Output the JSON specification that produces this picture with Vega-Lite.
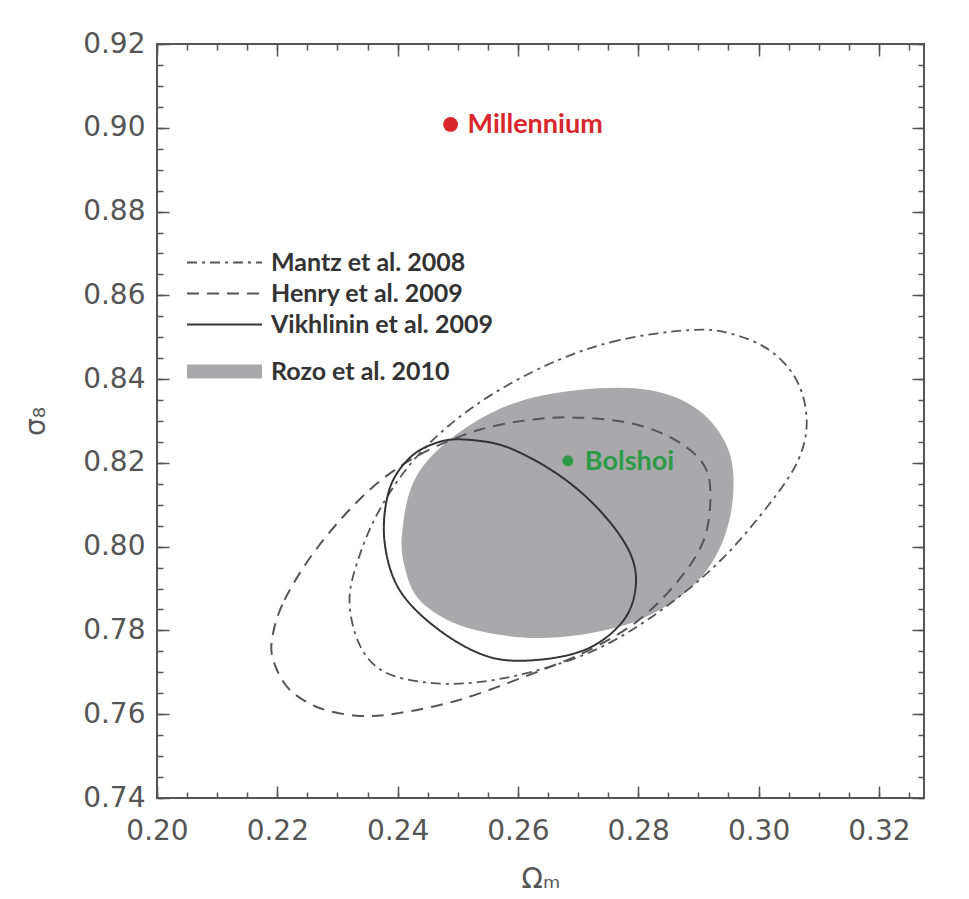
{
  "$schema": "https://vega.github.io/schema/vega-lite/v6.json",
  "width": 767,
  "height": 754,
  "autosize": {"type": "none"},
  "padding": {"left": 157, "top": 44, "right": 45, "bottom": 101},
  "background": "white",
  "config": {
    "view": {"stroke": "#555555", "strokeWidth": 2},
    "axis": {
      "domain": false, "grid": false, "labelFlush": false,
      "labelFont": "DejaVu Sans", "labelFontSize": 28, "labelColor": "#555555",
      "tickColor": "#555555", "tickWidth": 1.5,
      "titleFont": "DejaVu Sans", "titleFontSize": 28, "titleColor": "#555555", "titleFontWeight": "normal"
    }
  },
  "datasets": {
    "contours": [
      {"study": "Mantz et al. 2008", "ord": 1, "x": 0.2884, "y": 0.8517},
      {"study": "Mantz et al. 2008", "ord": 2, "x": 0.2768, "y": 0.8493},
      {"study": "Mantz et al. 2008", "ord": 3, "x": 0.2668, "y": 0.8446},
      {"study": "Mantz et al. 2008", "ord": 4, "x": 0.2569, "y": 0.8374},
      {"study": "Mantz et al. 2008", "ord": 5, "x": 0.2486, "y": 0.8290},
      {"study": "Mantz et al. 2008", "ord": 6, "x": 0.2420, "y": 0.8195},
      {"study": "Mantz et al. 2008", "ord": 7, "x": 0.2370, "y": 0.8088},
      {"study": "Mantz et al. 2008", "ord": 8, "x": 0.2337, "y": 0.7980},
      {"study": "Mantz et al. 2008", "ord": 9, "x": 0.2320, "y": 0.7873},
      {"study": "Mantz et al. 2008", "ord": 10, "x": 0.2337, "y": 0.7765},
      {"study": "Mantz et al. 2008", "ord": 11, "x": 0.2378, "y": 0.7701},
      {"study": "Mantz et al. 2008", "ord": 12, "x": 0.2453, "y": 0.7675},
      {"study": "Mantz et al. 2008", "ord": 13, "x": 0.2536, "y": 0.7677},
      {"study": "Mantz et al. 2008", "ord": 14, "x": 0.2635, "y": 0.7706},
      {"study": "Mantz et al. 2008", "ord": 15, "x": 0.2735, "y": 0.7758},
      {"study": "Mantz et al. 2008", "ord": 16, "x": 0.2834, "y": 0.7844},
      {"study": "Mantz et al. 2008", "ord": 17, "x": 0.2934, "y": 0.7963},
      {"study": "Mantz et al. 2008", "ord": 18, "x": 0.3017, "y": 0.8100},
      {"study": "Mantz et al. 2008", "ord": 19, "x": 0.3066, "y": 0.8207},
      {"study": "Mantz et al. 2008", "ord": 20, "x": 0.3080, "y": 0.8302},
      {"study": "Mantz et al. 2008", "ord": 21, "x": 0.3063, "y": 0.8398},
      {"study": "Mantz et al. 2008", "ord": 22, "x": 0.3017, "y": 0.8470},
      {"study": "Mantz et al. 2008", "ord": 23, "x": 0.2950, "y": 0.8510},
      {"study": "Henry et al. 2009", "ord": 1, "x": 0.2191, "y": 0.7777},
      {"study": "Henry et al. 2009", "ord": 2, "x": 0.2212, "y": 0.7873},
      {"study": "Henry et al. 2009", "ord": 3, "x": 0.2270, "y": 0.8004},
      {"study": "Henry et al. 2009", "ord": 4, "x": 0.2353, "y": 0.8135},
      {"study": "Henry et al. 2009", "ord": 5, "x": 0.2436, "y": 0.8219},
      {"study": "Henry et al. 2009", "ord": 6, "x": 0.2536, "y": 0.8279},
      {"study": "Henry et al. 2009", "ord": 7, "x": 0.2635, "y": 0.8305},
      {"study": "Henry et al. 2009", "ord": 8, "x": 0.2718, "y": 0.8307},
      {"study": "Henry et al. 2009", "ord": 9, "x": 0.2801, "y": 0.8290},
      {"study": "Henry et al. 2009", "ord": 10, "x": 0.2867, "y": 0.8250},
      {"study": "Henry et al. 2009", "ord": 11, "x": 0.2909, "y": 0.8195},
      {"study": "Henry et al. 2009", "ord": 12, "x": 0.2920, "y": 0.8123},
      {"study": "Henry et al. 2009", "ord": 13, "x": 0.2909, "y": 0.8016},
      {"study": "Henry et al. 2009", "ord": 14, "x": 0.2867, "y": 0.7920},
      {"study": "Henry et al. 2009", "ord": 15, "x": 0.2801, "y": 0.7825},
      {"study": "Henry et al. 2009", "ord": 16, "x": 0.2718, "y": 0.7753},
      {"study": "Henry et al. 2009", "ord": 17, "x": 0.2619, "y": 0.7694},
      {"study": "Henry et al. 2009", "ord": 18, "x": 0.2502, "y": 0.7634},
      {"study": "Henry et al. 2009", "ord": 19, "x": 0.2403, "y": 0.7603},
      {"study": "Henry et al. 2009", "ord": 20, "x": 0.2337, "y": 0.7596},
      {"study": "Henry et al. 2009", "ord": 21, "x": 0.2270, "y": 0.7615},
      {"study": "Henry et al. 2009", "ord": 22, "x": 0.2221, "y": 0.7658},
      {"study": "Henry et al. 2009", "ord": 23, "x": 0.2196, "y": 0.7718},
      {"study": "Vikhlinin et al. 2009", "ord": 1, "x": 0.2378, "y": 0.8016},
      {"study": "Vikhlinin et al. 2009", "ord": 2, "x": 0.2386, "y": 0.8135},
      {"study": "Vikhlinin et al. 2009", "ord": 3, "x": 0.2420, "y": 0.8212},
      {"study": "Vikhlinin et al. 2009", "ord": 4, "x": 0.2469, "y": 0.8250},
      {"study": "Vikhlinin et al. 2009", "ord": 5, "x": 0.2519, "y": 0.8255},
      {"study": "Vikhlinin et al. 2009", "ord": 6, "x": 0.2585, "y": 0.8236},
      {"study": "Vikhlinin et al. 2009", "ord": 7, "x": 0.2668, "y": 0.8171},
      {"study": "Vikhlinin et al. 2009", "ord": 8, "x": 0.2735, "y": 0.8088},
      {"study": "Vikhlinin et al. 2009", "ord": 9, "x": 0.2784, "y": 0.7992},
      {"study": "Vikhlinin et al. 2009", "ord": 10, "x": 0.2796, "y": 0.7909},
      {"study": "Vikhlinin et al. 2009", "ord": 11, "x": 0.2776, "y": 0.7825},
      {"study": "Vikhlinin et al. 2009", "ord": 12, "x": 0.2718, "y": 0.7758},
      {"study": "Vikhlinin et al. 2009", "ord": 13, "x": 0.2635, "y": 0.7730},
      {"study": "Vikhlinin et al. 2009", "ord": 14, "x": 0.2552, "y": 0.7737},
      {"study": "Vikhlinin et al. 2009", "ord": 15, "x": 0.2469, "y": 0.7801},
      {"study": "Vikhlinin et al. 2009", "ord": 16, "x": 0.2403, "y": 0.7897},
      {"study": "Rozo et al. 2010", "ord": 1, "x": 0.2408, "y": 0.8040},
      {"study": "Rozo et al. 2010", "ord": 2, "x": 0.2428, "y": 0.8159},
      {"study": "Rozo et al. 2010", "ord": 3, "x": 0.2486, "y": 0.8255},
      {"study": "Rozo et al. 2010", "ord": 4, "x": 0.2585, "y": 0.8338},
      {"study": "Rozo et al. 2010", "ord": 5, "x": 0.2701, "y": 0.8374},
      {"study": "Rozo et al. 2010", "ord": 6, "x": 0.2818, "y": 0.8374},
      {"study": "Rozo et al. 2010", "ord": 7, "x": 0.2900, "y": 0.8326},
      {"study": "Rozo et al. 2010", "ord": 8, "x": 0.2950, "y": 0.8231},
      {"study": "Rozo et al. 2010", "ord": 9, "x": 0.2957, "y": 0.8111},
      {"study": "Rozo et al. 2010", "ord": 10, "x": 0.2934, "y": 0.7992},
      {"study": "Rozo et al. 2010", "ord": 11, "x": 0.2884, "y": 0.7897},
      {"study": "Rozo et al. 2010", "ord": 12, "x": 0.2801, "y": 0.7825},
      {"study": "Rozo et al. 2010", "ord": 13, "x": 0.2701, "y": 0.7789},
      {"study": "Rozo et al. 2010", "ord": 14, "x": 0.2602, "y": 0.7784},
      {"study": "Rozo et al. 2010", "ord": 15, "x": 0.2502, "y": 0.7813},
      {"study": "Rozo et al. 2010", "ord": 16, "x": 0.2436, "y": 0.7873},
      {"study": "Rozo et al. 2010", "ord": 17, "x": 0.2411, "y": 0.7956}
    ],
    "sims": [
      {"name": "Millennium", "x": 0.2488, "y": 0.9008, "big": 1},
      {"name": "Bolshoi", "x": 0.2683, "y": 0.8205, "big": 0}
    ]
  },
  "layer": [
    {
      "data": {"name": "contours"},
      "transform": [{"filter": "datum.study === 'Rozo et al. 2010'"}],
      "mark": {"type": "line", "interpolate": "cardinal-closed", "fill": "#a9a9ac", "stroke": null, "strokeWidth": 0},
      "encoding": {
        "x": {"field": "x", "type": "quantitative", "scale": {"domain": [0.2, 0.3275], "nice": false, "zero": false},
              "axis": {"orient": "bottom", "offset": -12, "tickSize": 12, "values": [0.2, 0.22, 0.24, 0.26, 0.28, 0.3, 0.32], "format": ".2f", "labelPadding": 19, "title": "Ωₘ", "titlePadding": 20}},
        "y": {"field": "y", "type": "quantitative", "scale": {"domain": [0.74, 0.92], "nice": false, "zero": false},
              "axis": {"orient": "left", "offset": -12, "tickSize": 12, "values": [0.74, 0.76, 0.78, 0.8, 0.82, 0.84, 0.86, 0.88, 0.9, 0.92], "format": ".2f", "labelPadding": 12, "title": "σ₈", "titlePadding": 32}},
        "order": {"field": "ord", "type": "quantitative"}
      }
    },
    {
      "data": {"name": "contours"},
      "transform": [{"filter": "datum.study !== 'Rozo et al. 2010'"}],
      "mark": {"type": "line", "interpolate": "cardinal-closed", "strokeJoin": "bevel", "strokeMiterLimit": 1},
      "encoding": {
        "x": {"field": "x", "type": "quantitative", "axis": {"orient": "top", "offset": -12, "tickSize": 12, "values": [0.2, 0.22, 0.24, 0.26, 0.28, 0.3, 0.32], "labels": false, "title": null}},
        "y": {"field": "y", "type": "quantitative", "axis": {"orient": "right", "offset": -12, "tickSize": 12, "values": [0.74, 0.76, 0.78, 0.8, 0.82, 0.84, 0.86, 0.88, 0.9, 0.92], "labels": false, "title": null}},
        "order": {"field": "ord", "type": "quantitative"},
        "stroke": {"field": "study", "type": "nominal",
                   "scale": {"domain": ["Mantz et al. 2008", "Henry et al. 2009", "Vikhlinin et al. 2009", "Rozo et al. 2010"], "range": ["#555555", "#555555", "#333333", "#a9a9ac"]},
                   "legend": {"title": null, "orient": "none", "legendX": 55, "legendY": 206, "padding": 0,
                              "symbolType": "M-75,0H75", "symbolSize": 1, "labelFont": "Lato", "labelFontSize": 25, "labelFontWeight": "bold", "labelColor": "#333333",
                              "labelOffset": 34, "labelLimit": 400, "rowPadding": 5}},
        "strokeDash": {"field": "study", "type": "nominal",
                       "scale": {"domain": ["Mantz et al. 2008", "Henry et al. 2009", "Vikhlinin et al. 2009", "Rozo et al. 2010"], "range": [[10, 5, 3, 5], [12, 8], [1, 0], [1, 0]]},
                       "legend": {"title": null, "orient": "none", "legendX": 55, "legendY": 206, "padding": 0,
                              "symbolType": "M-75,0H75", "symbolSize": 1, "labelFont": "Lato", "labelFontSize": 25, "labelFontWeight": "bold", "labelColor": "#333333",
                              "labelOffset": 34, "labelLimit": 400, "rowPadding": 5}},
        "strokeWidth": {"field": "study", "type": "nominal",
                        "scale": {"type": "ordinal", "domain": ["Mantz et al. 2008", "Henry et al. 2009", "Vikhlinin et al. 2009", "Rozo et al. 2010"], "range": [1.8, 2, 2, 14]},
                        "legend": {"title": null, "orient": "none", "legendX": 55, "legendY": 206, "padding": 0,
                              "symbolType": "M-75,0H75", "symbolSize": 1, "labelFont": "Lato", "labelFontSize": 25, "labelFontWeight": "bold", "labelColor": "#333333",
                              "labelOffset": 34, "labelLimit": 400, "rowPadding": 5}}
      }
    },
    {
      "data": {"name": "sims"},
      "mark": {"type": "circle", "opacity": 1},
      "encoding": {
        "x": {"field": "x", "type": "quantitative", "axis": {"orient": "bottom", "offset": -6, "tickSize": 6, "values": [0.2, 0.205, 0.21, 0.215, 0.22, 0.225, 0.23, 0.235, 0.24, 0.245, 0.25, 0.255, 0.26, 0.265, 0.27, 0.275, 0.28, 0.285, 0.29, 0.295, 0.3, 0.305, 0.31, 0.315, 0.32, 0.325], "labels": false, "title": null}},
        "y": {"field": "y", "type": "quantitative", "axis": {"orient": "left", "offset": -6, "tickSize": 6, "values": [0.74, 0.745, 0.75, 0.755, 0.76, 0.765, 0.77, 0.775, 0.78, 0.785, 0.79, 0.795, 0.8, 0.805, 0.81, 0.815, 0.82, 0.825, 0.83, 0.835, 0.84, 0.845, 0.85, 0.855, 0.86, 0.865, 0.87, 0.875, 0.88, 0.885, 0.89, 0.895, 0.9, 0.905, 0.91, 0.915, 0.92], "labels": false, "title": null}},
        "size": {"field": "big", "type": "quantitative", "scale": {"domain": [0, 1], "range": [120, 220]}, "legend": null},
        "color": {"field": "name", "type": "nominal", "scale": {"domain": ["Millennium", "Bolshoi"], "range": ["#d8262c", "#2e9a47"]}, "legend": null}
      }
    },
    {
      "data": {"name": "sims"},
      "mark": {"type": "text", "align": "left", "baseline": "middle", "dx": 17, "dy": 1, "font": "Lato", "fontSize": 27, "fontWeight": "bold"},
      "encoding": {
        "x": {"field": "x", "type": "quantitative", "axis": {"orient": "top", "offset": -6, "tickSize": 6, "values": [0.2, 0.205, 0.21, 0.215, 0.22, 0.225, 0.23, 0.235, 0.24, 0.245, 0.25, 0.255, 0.26, 0.265, 0.27, 0.275, 0.28, 0.285, 0.29, 0.295, 0.3, 0.305, 0.31, 0.315, 0.32, 0.325], "labels": false, "title": null}},
        "y": {"field": "y", "type": "quantitative", "axis": {"orient": "right", "offset": -6, "tickSize": 6, "values": [0.74, 0.745, 0.75, 0.755, 0.76, 0.765, 0.77, 0.775, 0.78, 0.785, 0.79, 0.795, 0.8, 0.805, 0.81, 0.815, 0.82, 0.825, 0.83, 0.835, 0.84, 0.845, 0.85, 0.855, 0.86, 0.865, 0.87, 0.875, 0.88, 0.885, 0.89, 0.895, 0.9, 0.905, 0.91, 0.915, 0.92], "labels": false, "title": null}},
        "text": {"field": "name"},
        "color": {"field": "name", "type": "nominal", "legend": null}
      }
    }
  ],
  "resolve": {"axis": {"x": "independent", "y": "independent"}}
}
